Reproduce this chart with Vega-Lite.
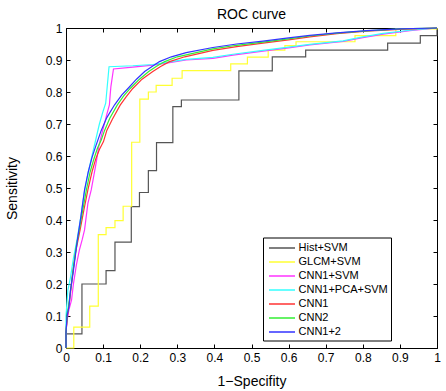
{
  "$schema": "https://vega.github.io/schema/vega-lite/v6.json",
  "width": 371,
  "height": 320,
  "autosize": {"type": "none"},
  "padding": {"left": 66, "top": 28, "right": 9, "bottom": 43},
  "background": "white",
  "title": {"text": "ROC curve", "font": "Liberation Sans", "fontSize": 14, "fontWeight": "normal", "color": "black", "offset": 0, "anchor": "middle"},
  "config": {
    "view": {"stroke": "black", "strokeWidth": 1},
    "axis": {"grid": false, "labelFont": "Liberation Sans", "labelFontSize": 12, "labelColor": "black", "titleFont": "Liberation Sans", "titleFontSize": 14, "titleFontWeight": "normal", "titleColor": "black", "domainColor": "black", "tickColor": "black", "tickSize": -4, "labelPadding": 8}
  },
  "datasets": {
    "roc": [
      {"m":"Hist+SVM","o":0,"x":0,"y":0},{"m":"Hist+SVM","o":1,"x":0,"y":0.044},{"m":"Hist+SVM","o":2,"x":0.043,"y":0.044},{"m":"Hist+SVM","o":3,"x":0.043,"y":0.2},{"m":"Hist+SVM","o":4,"x":0.108,"y":0.2},{"m":"Hist+SVM","o":5,"x":0.108,"y":0.242},{"m":"Hist+SVM","o":6,"x":0.132,"y":0.242},{"m":"Hist+SVM","o":7,"x":0.132,"y":0.331},{"m":"Hist+SVM","o":8,"x":0.176,"y":0.331},{"m":"Hist+SVM","o":9,"x":0.176,"y":0.442},{"m":"Hist+SVM","o":10,"x":0.198,"y":0.442},{"m":"Hist+SVM","o":11,"x":0.198,"y":0.486},{"m":"Hist+SVM","o":12,"x":0.222,"y":0.486},{"m":"Hist+SVM","o":13,"x":0.222,"y":0.554},{"m":"Hist+SVM","o":14,"x":0.244,"y":0.554},{"m":"Hist+SVM","o":15,"x":0.244,"y":0.642},{"m":"Hist+SVM","o":16,"x":0.288,"y":0.642},{"m":"Hist+SVM","o":17,"x":0.288,"y":0.754},{"m":"Hist+SVM","o":18,"x":0.311,"y":0.754},{"m":"Hist+SVM","o":19,"x":0.311,"y":0.775},{"m":"Hist+SVM","o":20,"x":0.466,"y":0.775},{"m":"Hist+SVM","o":21,"x":0.466,"y":0.866},{"m":"Hist+SVM","o":22,"x":0.556,"y":0.866},{"m":"Hist+SVM","o":23,"x":0.556,"y":0.91},{"m":"Hist+SVM","o":24,"x":0.646,"y":0.91},{"m":"Hist+SVM","o":25,"x":0.646,"y":0.931},{"m":"Hist+SVM","o":26,"x":0.867,"y":0.931},{"m":"Hist+SVM","o":27,"x":0.867,"y":0.953},{"m":"Hist+SVM","o":28,"x":0.955,"y":0.953},{"m":"Hist+SVM","o":29,"x":0.955,"y":0.976},{"m":"Hist+SVM","o":30,"x":1,"y":0.976},{"m":"Hist+SVM","o":31,"x":1,"y":1},

      {"m":"GLCM+SVM","o":0,"x":0,"y":0},{"m":"GLCM+SVM","o":1,"x":0.021,"y":0},{"m":"GLCM+SVM","o":2,"x":0.021,"y":0.065},{"m":"GLCM+SVM","o":3,"x":0.064,"y":0.065},{"m":"GLCM+SVM","o":4,"x":0.064,"y":0.131},{"m":"GLCM+SVM","o":5,"x":0.087,"y":0.131},{"m":"GLCM+SVM","o":6,"x":0.087,"y":0.354},{"m":"GLCM+SVM","o":7,"x":0.108,"y":0.354},{"m":"GLCM+SVM","o":8,"x":0.108,"y":0.376},{"m":"GLCM+SVM","o":9,"x":0.132,"y":0.376},{"m":"GLCM+SVM","o":10,"x":0.132,"y":0.398},{"m":"GLCM+SVM","o":11,"x":0.154,"y":0.398},{"m":"GLCM+SVM","o":12,"x":0.154,"y":0.443},{"m":"GLCM+SVM","o":13,"x":0.177,"y":0.443},{"m":"GLCM+SVM","o":14,"x":0.177,"y":0.643},{"m":"GLCM+SVM","o":15,"x":0.199,"y":0.643},{"m":"GLCM+SVM","o":16,"x":0.199,"y":0.778},{"m":"GLCM+SVM","o":17,"x":0.222,"y":0.778},{"m":"GLCM+SVM","o":18,"x":0.222,"y":0.8},{"m":"GLCM+SVM","o":19,"x":0.243,"y":0.8},{"m":"GLCM+SVM","o":20,"x":0.243,"y":0.821},{"m":"GLCM+SVM","o":21,"x":0.286,"y":0.821},{"m":"GLCM+SVM","o":22,"x":0.286,"y":0.843},{"m":"GLCM+SVM","o":23,"x":0.313,"y":0.843},{"m":"GLCM+SVM","o":24,"x":0.313,"y":0.867},{"m":"GLCM+SVM","o":25,"x":0.444,"y":0.867},{"m":"GLCM+SVM","o":26,"x":0.444,"y":0.888},{"m":"GLCM+SVM","o":27,"x":0.489,"y":0.888},{"m":"GLCM+SVM","o":28,"x":0.489,"y":0.909},{"m":"GLCM+SVM","o":29,"x":0.545,"y":0.909},{"m":"GLCM+SVM","o":30,"x":0.545,"y":0.931},{"m":"GLCM+SVM","o":31,"x":0.59,"y":0.931},{"m":"GLCM+SVM","o":32,"x":0.59,"y":0.945},{"m":"GLCM+SVM","o":33,"x":0.62,"y":0.945},{"m":"GLCM+SVM","o":34,"x":0.62,"y":0.957},{"m":"GLCM+SVM","o":35,"x":0.779,"y":0.957},{"m":"GLCM+SVM","o":36,"x":0.779,"y":0.976},{"m":"GLCM+SVM","o":37,"x":0.889,"y":0.976},{"m":"GLCM+SVM","o":38,"x":0.889,"y":0.997},{"m":"GLCM+SVM","o":39,"x":1,"y":0.997},{"m":"GLCM+SVM","o":40,"x":1,"y":1},

      {"m":"CNN1+SVM","o":0,"x":0,"y":0},{"m":"CNN1+SVM","o":1,"x":0,"y":0.05},{"m":"CNN1+SVM","o":2,"x":0.003,"y":0.088},{"m":"CNN1+SVM","o":3,"x":0.008,"y":0.12},{"m":"CNN1+SVM","o":4,"x":0.015,"y":0.15},{"m":"CNN1+SVM","o":5,"x":0.02,"y":0.2},{"m":"CNN1+SVM","o":6,"x":0.028,"y":0.26},{"m":"CNN1+SVM","o":7,"x":0.036,"y":0.306},{"m":"CNN1+SVM","o":8,"x":0.044,"y":0.34},{"m":"CNN1+SVM","o":9,"x":0.05,"y":0.369},{"m":"CNN1+SVM","o":10,"x":0.059,"y":0.452},{"m":"CNN1+SVM","o":11,"x":0.068,"y":0.494},{"m":"CNN1+SVM","o":12,"x":0.081,"y":0.577},{"m":"CNN1+SVM","o":13,"x":0.089,"y":0.634},{"m":"CNN1+SVM","o":14,"x":0.099,"y":0.68},{"m":"CNN1+SVM","o":15,"x":0.11,"y":0.73},{"m":"CNN1+SVM","o":16,"x":0.117,"y":0.76},{"m":"CNN1+SVM","o":17,"x":0.119,"y":0.79},{"m":"CNN1+SVM","o":18,"x":0.121,"y":0.817},{"m":"CNN1+SVM","o":19,"x":0.128,"y":0.872},{"m":"CNN1+SVM","o":20,"x":0.18,"y":0.878},{"m":"CNN1+SVM","o":21,"x":0.234,"y":0.884},{"m":"CNN1+SVM","o":22,"x":0.279,"y":0.892},{"m":"CNN1+SVM","o":23,"x":0.324,"y":0.9},{"m":"CNN1+SVM","o":24,"x":0.396,"y":0.905},{"m":"CNN1+SVM","o":25,"x":0.45,"y":0.915},{"m":"CNN1+SVM","o":26,"x":0.531,"y":0.928},{"m":"CNN1+SVM","o":27,"x":0.6,"y":0.938},{"m":"CNN1+SVM","o":28,"x":0.657,"y":0.947},{"m":"CNN1+SVM","o":29,"x":0.747,"y":0.958},{"m":"CNN1+SVM","o":30,"x":0.8,"y":0.97},{"m":"CNN1+SVM","o":31,"x":0.855,"y":0.981},{"m":"CNN1+SVM","o":32,"x":0.927,"y":0.992},{"m":"CNN1+SVM","o":33,"x":1,"y":1},

      {"m":"CNN1+PCA+SVM","o":0,"x":0,"y":0},{"m":"CNN1+PCA+SVM","o":1,"x":0,"y":0.1},{"m":"CNN1+PCA+SVM","o":2,"x":0.005,"y":0.18},{"m":"CNN1+PCA+SVM","o":3,"x":0.012,"y":0.22},{"m":"CNN1+PCA+SVM","o":4,"x":0.02,"y":0.28},{"m":"CNN1+PCA+SVM","o":5,"x":0.03,"y":0.34},{"m":"CNN1+PCA+SVM","o":6,"x":0.04,"y":0.41},{"m":"CNN1+PCA+SVM","o":7,"x":0.05,"y":0.49},{"m":"CNN1+PCA+SVM","o":8,"x":0.06,"y":0.55},{"m":"CNN1+PCA+SVM","o":9,"x":0.07,"y":0.6},{"m":"CNN1+PCA+SVM","o":10,"x":0.08,"y":0.65},{"m":"CNN1+PCA+SVM","o":11,"x":0.09,"y":0.7},{"m":"CNN1+PCA+SVM","o":12,"x":0.1,"y":0.74},{"m":"CNN1+PCA+SVM","o":13,"x":0.107,"y":0.765},{"m":"CNN1+PCA+SVM","o":14,"x":0.116,"y":0.879},{"m":"CNN1+PCA+SVM","o":15,"x":0.18,"y":0.882},{"m":"CNN1+PCA+SVM","o":16,"x":0.234,"y":0.886},{"m":"CNN1+PCA+SVM","o":17,"x":0.279,"y":0.894},{"m":"CNN1+PCA+SVM","o":18,"x":0.324,"y":0.902},{"m":"CNN1+PCA+SVM","o":19,"x":0.396,"y":0.908},{"m":"CNN1+PCA+SVM","o":20,"x":0.45,"y":0.918},{"m":"CNN1+PCA+SVM","o":21,"x":0.531,"y":0.93},{"m":"CNN1+PCA+SVM","o":22,"x":0.6,"y":0.94},{"m":"CNN1+PCA+SVM","o":23,"x":0.657,"y":0.949},{"m":"CNN1+PCA+SVM","o":24,"x":0.747,"y":0.96},{"m":"CNN1+PCA+SVM","o":25,"x":0.8,"y":0.972},{"m":"CNN1+PCA+SVM","o":26,"x":0.855,"y":0.983},{"m":"CNN1+PCA+SVM","o":27,"x":0.927,"y":0.993},{"m":"CNN1+PCA+SVM","o":28,"x":1,"y":1},

      {"m":"CNN1","o":0,"x":0,"y":0},{"m":"CNN1","o":1,"x":0,"y":0.05},{"m":"CNN1","o":2,"x":0.004,"y":0.1},{"m":"CNN1","o":3,"x":0.01,"y":0.15},{"m":"CNN1","o":4,"x":0.018,"y":0.233},{"m":"CNN1","o":5,"x":0.026,"y":0.3},{"m":"CNN1","o":6,"x":0.038,"y":0.369},{"m":"CNN1","o":7,"x":0.048,"y":0.43},{"m":"CNN1","o":8,"x":0.059,"y":0.494},{"m":"CNN1","o":9,"x":0.07,"y":0.55},{"m":"CNN1","o":10,"x":0.08,"y":0.59},{"m":"CNN1","o":11,"x":0.09,"y":0.62},{"m":"CNN1","o":12,"x":0.101,"y":0.645},{"m":"CNN1","o":13,"x":0.11,"y":0.68},{"m":"CNN1","o":14,"x":0.125,"y":0.715},{"m":"CNN1","o":15,"x":0.146,"y":0.759},{"m":"CNN1","o":16,"x":0.162,"y":0.785},{"m":"CNN1","o":17,"x":0.18,"y":0.811},{"m":"CNN1","o":18,"x":0.205,"y":0.84},{"m":"CNN1","o":19,"x":0.234,"y":0.864},{"m":"CNN1","o":20,"x":0.255,"y":0.88},{"m":"CNN1","o":21,"x":0.279,"y":0.895},{"m":"CNN1","o":22,"x":0.32,"y":0.91},{"m":"CNN1","o":23,"x":0.396,"y":0.93},{"m":"CNN1","o":24,"x":0.46,"y":0.942},{"m":"CNN1","o":25,"x":0.531,"y":0.953},{"m":"CNN1","o":26,"x":0.6,"y":0.963},{"m":"CNN1","o":27,"x":0.657,"y":0.972},{"m":"CNN1","o":28,"x":0.73,"y":0.982},{"m":"CNN1","o":29,"x":0.81,"y":0.99},{"m":"CNN1","o":30,"x":0.9,"y":0.996},{"m":"CNN1","o":31,"x":1,"y":1},

      {"m":"CNN2","o":0,"x":0,"y":0},{"m":"CNN2","o":1,"x":0,"y":0.05},{"m":"CNN2","o":2,"x":0.003,"y":0.1},{"m":"CNN2","o":3,"x":0.009,"y":0.15},{"m":"CNN2","o":4,"x":0.018,"y":0.233},{"m":"CNN2","o":5,"x":0.028,"y":0.32},{"m":"CNN2","o":6,"x":0.036,"y":0.37},{"m":"CNN2","o":7,"x":0.045,"y":0.43},{"m":"CNN2","o":8,"x":0.055,"y":0.494},{"m":"CNN2","o":9,"x":0.065,"y":0.55},{"m":"CNN2","o":10,"x":0.075,"y":0.59},{"m":"CNN2","o":11,"x":0.085,"y":0.625},{"m":"CNN2","o":12,"x":0.095,"y":0.65},{"m":"CNN2","o":13,"x":0.104,"y":0.68},{"m":"CNN2","o":14,"x":0.118,"y":0.718},{"m":"CNN2","o":15,"x":0.138,"y":0.759},{"m":"CNN2","o":16,"x":0.155,"y":0.787},{"m":"CNN2","o":17,"x":0.173,"y":0.811},{"m":"CNN2","o":18,"x":0.198,"y":0.84},{"m":"CNN2","o":19,"x":0.223,"y":0.864},{"m":"CNN2","o":20,"x":0.243,"y":0.88},{"m":"CNN2","o":21,"x":0.266,"y":0.895},{"m":"CNN2","o":22,"x":0.3,"y":0.91},{"m":"CNN2","o":23,"x":0.396,"y":0.935},{"m":"CNN2","o":24,"x":0.46,"y":0.946},{"m":"CNN2","o":25,"x":0.531,"y":0.956},{"m":"CNN2","o":26,"x":0.6,"y":0.966},{"m":"CNN2","o":27,"x":0.657,"y":0.975},{"m":"CNN2","o":28,"x":0.73,"y":0.984},{"m":"CNN2","o":29,"x":0.81,"y":0.991},{"m":"CNN2","o":30,"x":0.9,"y":0.997},{"m":"CNN2","o":31,"x":1,"y":1},

      {"m":"CNN1+2","o":0,"x":0,"y":0},{"m":"CNN1+2","o":1,"x":0,"y":0.05},{"m":"CNN1+2","o":2,"x":0.003,"y":0.1},{"m":"CNN1+2","o":3,"x":0.008,"y":0.13},{"m":"CNN1+2","o":4,"x":0.012,"y":0.18},{"m":"CNN1+2","o":5,"x":0.019,"y":0.233},{"m":"CNN1+2","o":6,"x":0.031,"y":0.34},{"m":"CNN1+2","o":7,"x":0.04,"y":0.41},{"m":"CNN1+2","o":8,"x":0.05,"y":0.494},{"m":"CNN1+2","o":9,"x":0.06,"y":0.55},{"m":"CNN1+2","o":10,"x":0.07,"y":0.595},{"m":"CNN1+2","o":11,"x":0.08,"y":0.63},{"m":"CNN1+2","o":12,"x":0.095,"y":0.68},{"m":"CNN1+2","o":13,"x":0.11,"y":0.72},{"m":"CNN1+2","o":14,"x":0.131,"y":0.76},{"m":"CNN1+2","o":15,"x":0.15,"y":0.79},{"m":"CNN1+2","o":16,"x":0.167,"y":0.811},{"m":"CNN1+2","o":17,"x":0.19,"y":0.84},{"m":"CNN1+2","o":18,"x":0.212,"y":0.864},{"m":"CNN1+2","o":19,"x":0.232,"y":0.88},{"m":"CNN1+2","o":20,"x":0.252,"y":0.895},{"m":"CNN1+2","o":21,"x":0.284,"y":0.91},{"m":"CNN1+2","o":22,"x":0.324,"y":0.923},{"m":"CNN1+2","o":23,"x":0.396,"y":0.939},{"m":"CNN1+2","o":24,"x":0.46,"y":0.95},{"m":"CNN1+2","o":25,"x":0.531,"y":0.959},{"m":"CNN1+2","o":26,"x":0.6,"y":0.969},{"m":"CNN1+2","o":27,"x":0.657,"y":0.977},{"m":"CNN1+2","o":28,"x":0.73,"y":0.985},{"m":"CNN1+2","o":29,"x":0.81,"y":0.992},{"m":"CNN1+2","o":30,"x":0.9,"y":0.997},{"m":"CNN1+2","o":31,"x":1,"y":1}
    ]
  },
  "data": {"name": "roc"},
  "layer": [
    {
      "mark": {"type": "line", "strokeWidth": 1.2, "clip": false},
      "encoding": {
        "x": {"field": "x", "type": "quantitative", "scale": {"domain": [0, 1], "nice": false, "zero": false},
          "axis": {"title": "1\u2212Specifity", "values": [0,0.1,0.2,0.3,0.4,0.5,0.6,0.7,0.8,0.9,1], "format": "~g", "labelFlush": false, "labelOverlap": false, "titleX": 185.5, "titleY": 33, "titleBaseline": "middle", "titleAnchor": null}},
        "y": {"field": "y", "type": "quantitative", "scale": {"domain": [0, 1], "nice": false, "zero": false},
          "axis": {"title": "Sensitivity", "values": [0,0.1,0.2,0.3,0.4,0.5,0.6,0.7,0.8,0.9,1], "format": "~g", "labelFlush": false, "labelOverlap": false, "titleX": -54, "titleY": 160, "titleAngle": -90, "titleAlign": "center", "titleBaseline": "middle"}},
        "order": {"field": "o", "type": "quantitative"},
        "color": {"field": "m", "type": "nominal",
          "scale": {"domain": ["Hist+SVM","GLCM+SVM","CNN1+SVM","CNN1+PCA+SVM","CNN1","CNN2","CNN1+2"],
                    "range": ["#555555","#ffff33","#ff33ff","#33ffff","#ff3333","#33ee33","#3333ff"]},
          "legend": {"title": null, "orient": "none", "legendX": 197, "legendY": 209.5, "symbolType": "M-2,0H2", "symbolSize": 169, "symbolStrokeWidth": 1.5, "labelFont": "Liberation Sans", "labelFontSize": 11, "labelColor": "black", "strokeColor": "black", "fillColor": "white", "padding": 3, "rowPadding": 1, "labelOffset": 9, "symbolOffset": 8.5}}
      }
    },
    {
      "mark": {"type": "point", "opacity": 0},
      "encoding": {
        "x": {"field": "x", "type": "quantitative", "scale": {"domain": [0, 1], "nice": false, "zero": false},
          "axis": {"orient": "top", "title": null, "labels": false, "domain": false, "values": [0,0.1,0.2,0.3,0.4,0.5,0.6,0.7,0.8,0.9,1]}},
        "y": {"field": "y", "type": "quantitative", "scale": {"domain": [0, 1], "nice": false, "zero": false},
          "axis": {"orient": "right", "title": null, "labels": false, "domain": false, "values": [0,0.1,0.2,0.3,0.4,0.5,0.6,0.7,0.8,0.9,1]}}
      }
    }
  ],
  "resolve": {"axis": {"x": "independent", "y": "independent"}}
}
